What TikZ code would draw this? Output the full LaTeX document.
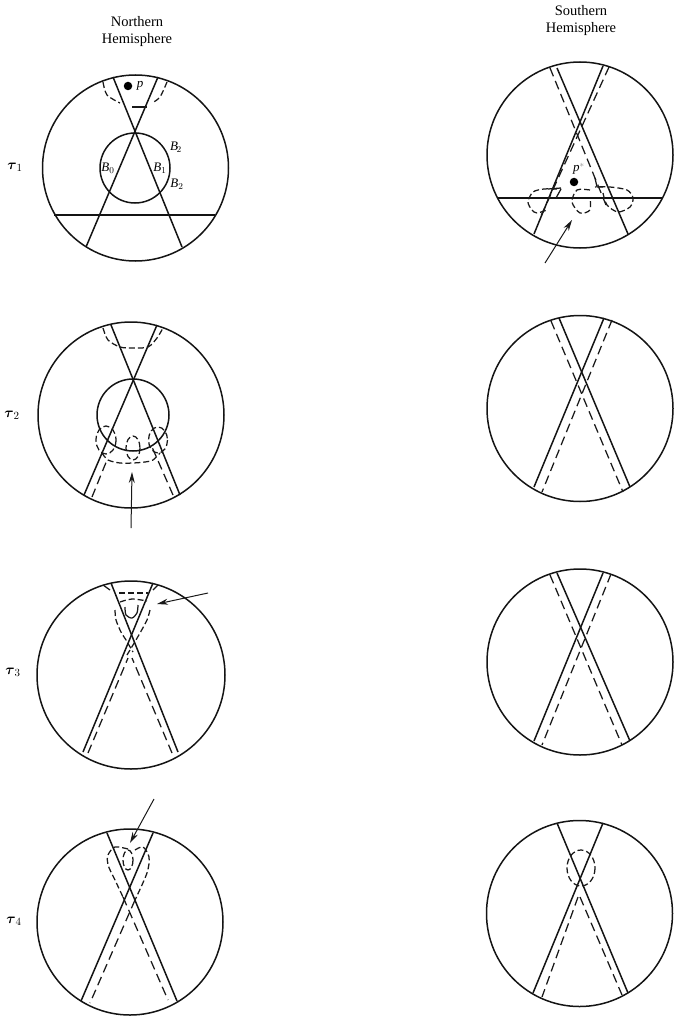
\documentclass[tikz,border=0pt]{standalone}
\usepackage{amsmath}
\usepackage{amsbsy}
\usepackage{fontspec}
\setmainfont{Liberation Serif}
\usetikzlibrary{arrows.meta}
\tikzset{
  solidline/.style={line width=1.5pt,color=black!92},
  thinline/.style={line width=1.25pt,color=black!90},
  dashline/.style={line width=1.25pt,color=black!90,dash pattern=on 9pt off 5pt},
  shortdash/.style={line width=1.25pt,color=black!90,dash pattern=on 6pt off 3pt},
  ptr/.style={line width=1pt,color=black!90,-{Stealth[length=11pt,width=6pt]}},
  title/.style={font=\fontsize{14.5}{15}\selectfont,color=black},
  lab/.style={font=\fontsize{13}{13}\selectfont\itshape,color=black,inner sep=0pt},
  rowlab/.style={font=\fontsize{15}{15}\selectfont\bfseries,color=black,inner sep=0pt},
  dot/.style={circle,fill=black,inner sep=0pt,minimum size=8.5pt}
}
\begin{document}
\begin{tikzpicture}[x=1pt,y=-1pt]
\useasboundingbox (0,0) rectangle (673,1016);
% titles
\node[title] (tn1) at (137,22) {Northern};
\node[title] (tn2) at (137,40) {Hemisphere};
\node[title] (ts1) at (581,11) {Southern};
\node[title] (ts2) at (581,29) {Hemisphere};
% row labels
\node[rowlab] (r1) at (15,167) {$\boldsymbol{\tau}_{1}$};
\node[rowlab] (r2) at (12,415) {$\boldsymbol{\tau}_{2}$};
\node[rowlab] (r3) at (13,672) {$\boldsymbol{\tau}_{3}$};
\node[rowlab] (r4) at (14,921) {$\boldsymbol{\tau}_{4}$};

% ---- row 1 north
\draw[solidline] (135.5,168) circle (93);
\draw[solidline] (135,168) circle (35);
\draw[solidline] (113,77) -- (182,247);
\draw[solidline] (158,77) -- (86,247);
\draw[solidline] (54,215) -- (215,215);
\draw[shortdash] plot[smooth] coordinates {(103,82) (107,95) (120,103)};
\draw[shortdash] plot[smooth] coordinates {(167,82) (160,97) (152,103)};
\draw[thinline] (132,107) -- (147,107);
\node[dot] (p) at (128,86) {};
\node[lab] (pl) at (140,86) {p};
\node[lab] (b2a) at (176,147) {B$_{\!2}$};
\node[lab] (b0) at (108,168) {B$_{0}$};
\node[lab] (b1) at (160,168) {B$_{1}$};
\node[lab] (b2) at (177,184) {B$_{2}$};

% ---- row 1 south
\draw[solidline] (580,155) circle (93);
\draw[solidline] (557,68) -- (628,234);
\draw[solidline] (603,66) -- (534,234);
\draw[solidline] (497,198) -- (663,198);
\draw[dashline] (550,68) -- (606,205);
\draw[dashline] (609,67) -- (540,218);
\draw[shortdash] plot[smooth] coordinates {(557,189) (544,189) (533,192) (528,202) (532,210) (537,213) (547,210)};
\draw[thinline] (548,189) -- (561,188) (561,189) -- (556,198);
\draw[shortdash] plot[smooth] coordinates {(590,190) (577,190) (572,202) (580,213) (590,210) (590,198)};
\draw[shortdash] plot[smooth] coordinates {(603,193) (607,205) (618,212) (630,207) (633,198) (627,190) (610,187) (595,187)};
\draw[thinline] (597,187) -- (603,187) (597,187) -- (595,178);
\node[dot] (ps) at (574,182) {};
\node[lab] (psl) at (579,169) {p\textcolor{black!45}{$^{*}$}};
\coordinate (a1s) at (545,263);
\coordinate (a1e) at (572,220);
\draw[ptr] (a1s) -- (a1e);

% ---- row 2 north
\draw[solidline] (131,415) circle (93);
\draw[solidline] (133,415) circle (36);
\draw[solidline] (111,325) -- (180,495);
\draw[solidline] (157,325) -- (84,495);
\draw[shortdash] plot[smooth] coordinates {(103,328) (108,340) (120,347) (133,348) (148,347) (157,338) (163,328)};
\draw[shortdash] plot[smooth] coordinates {(102,453) (108,460) (120,463) (133,463) (145,462) (153,460) (160,453)};
\draw[dashline] (92,497) -- (107,460);
\draw[dashline] (173,495) -- (152,447);
\draw[shortdash] (106,440) ellipse (10 and 14);
\draw[shortdash] (133,448) ellipse (7 and 12);
\draw[shortdash] (158,440) ellipse (9.5 and 13);
\coordinate (a2s) at (131,528);
\coordinate (a2e) at (132,472);
\draw[ptr] (a2s) -- (a2e);

% ---- row 2 south
\draw[solidline] (580,408.5) circle (93);
\draw[solidline] (559,318) -- (630,487);
\draw[solidline] (604,318) -- (534,487);
\draw[dashline] (551,321) -- (623,492);
\draw[dashline] (612,320) -- (542,492);

% ---- row 3 north
\draw[solidline] (131,675) circle (94);
\draw[solidline] (111,583) -- (178,752);
\draw[solidline] (153,583) -- (83,752);
\draw[thinline] (103,585) -- (110,590) (158,585) -- (153,590);
\draw[shortdash] (119,593) -- (148,593);
\draw[shortdash] plot[smooth] coordinates {(120,602) (132,599) (147,601)};
\draw[thinline] plot[smooth] coordinates {(125,607) (126,615) (132,618) (137,613) (138,605)};
\draw[shortdash] plot[smooth] coordinates {(115,610) (116,620) (121,632) (126,640) (133,652)};
\draw[shortdash] plot[smooth] coordinates {(150,610) (147,620) (140,633) (133,645) (127,655)};
\draw[dashline] (88,753) -- (128,658);
\draw[dashline] (172,753) -- (132,658);
\coordinate (a3s) at (208,593);
\coordinate (a3e) at (157,604);
\draw[ptr] (a3s) -- (a3e);

% ---- row 3 south
\draw[solidline] (580,662) circle (93);
\draw[solidline] (557,573) -- (630,741);
\draw[solidline] (603,573) -- (534,741);
\draw[dashline] (550,575) -- (622,745);
\draw[dashline] (611,574) -- (542,745);

% ---- row 4 north
\draw[solidline] (130,922) circle (93);
\draw[solidline] (107,833) -- (177,1001);
\draw[solidline] (153,833) -- (81,1001);
\draw[shortdash] plot[smooth] coordinates {(128,849) (115,847) (108,855) (108,865) (115,880) (123,897)};
\draw[dashline] (123,897) -- (168,1000);
\draw[shortdash] plot[smooth] coordinates {(135,850) (143,847) (149,857) (147,873) (135,900)};
\draw[dashline] (135,900) -- (90,1003);
\draw[shortdash] (128,860) ellipse (5 and 10);
\coordinate (a4s) at (154,799);
\coordinate (a4e) at (130,843);
\draw[ptr] (a4s) -- (a4e);

% ---- row 4 south
\draw[solidline] (579.5,913.5) circle (93);
\draw[solidline] (557,823) -- (628,993);
\draw[solidline] (603,823) -- (533,993);
\draw[shortdash] (581,868) ellipse (14 and 18);
\draw[dashline] (578,897) -- (542,997);
\draw[dashline] (580,897) -- (622,995);
\end{tikzpicture}
\end{document}
